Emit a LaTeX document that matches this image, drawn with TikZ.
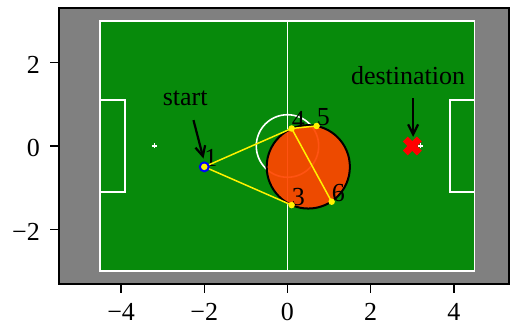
\documentclass[tikz,border=0pt]{standalone}
\usepackage{fontspec}
\setmainfont{Liberation Serif}
\usetikzlibrary{arrows.meta}
\definecolor{fieldgreen}{RGB}{7,138,11}
\definecolor{obst}{RGB}{255,70,0}
\definecolor{bggray}{RGB}{128,128,128}
\begin{document}
\begin{tikzpicture}[x=41.6pt,y=41.7pt,
  txt/.style={font=\fontsize{26}{30}\selectfont, inner sep=0pt, text=black},
  fieldline/.style={draw=white, line width=1.6pt},
  pathline/.style={draw=yellow, line width=1.5pt},
  wpdot/.style={circle, fill=yellow, minimum size=6.5pt, inner sep=0pt},
  annarrow/.style={draw=black, line width=2.2pt, -{Straight Barb[length=10pt,width=10pt,line width=2.2pt]}},
  tickline/.style={line width=1.5pt, black}]
\useasboundingbox (-6.911,-4.293) rectangle (5.349,3.501);
% axes background
\fill[bggray] (-5.5,-3.3) rectangle (5.33,3.3);
% field
\fill[fieldgreen] (-4.5,-3) rectangle (4.5,3);
\draw[fieldline] (-4.5,-3) rectangle (4.5,3);
\draw[fieldline] (0,-3) -- (0,3);
\draw[fieldline] (0,0) circle[radius=0.75];
\draw[fieldline] (-4.5,1.1) -- (-3.9,1.1) -- (-3.9,-1.1) -- (-4.5,-1.1);
\draw[fieldline] (4.5,1.1) -- (3.9,1.1) -- (3.9,-1.1) -- (4.5,-1.1);
% obstacle
\fill[obst, fill opacity=0.93] (0.5,-0.5) circle[radius=1];
\draw[black, line width=2pt] (0.5,-0.5) circle[radius=1];
% waypoints
\coordinate (p1) at (-2,-0.5);
\coordinate (p3) at (0.1,-1.417);
\coordinate (p4) at (0.1,0.42);
\coordinate (p5) at (0.7,0.48);
\coordinate (p6) at (1.062,-1.336);
\coordinate (dest) at (3,0);
% labels
\node[txt, anchor=base west] (l1) at (p1) {1};
\node[txt, anchor=base west] (l3) at (p3) {3};
\node[txt, anchor=base west] (l4) at (p4) {4};
\node[txt, anchor=base west] (l5) at (p5) {5};
\node[txt, anchor=base west] (l6) at (p6) {6};
% path
\draw[pathline] (p1) -- (p4);
\draw[pathline] (p1) -- (p3);
\draw[pathline] (p4) -- (p5);
\draw[pathline] (p4) -- (p6);
\node[circle, fill=blue, minimum size=11pt, inner sep=0pt] (m1) at (p1) {};
\node[wpdot] (d1) at (p1) {};
\node[wpdot] (d3) at (p3) {};
\node[wpdot] (d4) at (p4) {};
\node[wpdot] (d5) at (p5) {};
\node[wpdot] (d6) at (p6) {};
% destination marker
\draw[red, line width=7pt] ([shift={(-7pt,-7pt)}]dest) -- ([shift={(7pt,7pt)}]dest);
\draw[red, line width=7pt] ([shift={(-7pt,7pt)}]dest) -- ([shift={(7pt,-7pt)}]dest);
% penalty marks
\draw[white, line width=1.5pt] (-3.2,0) ++(-2.5pt,0) -- ++(5pt,0) (-3.2,0) ++(0,-2.5pt) -- ++(0,5pt);
\draw[white, line width=1.5pt] (3.2,0) ++(-2.5pt,0) -- ++(5pt,0) (3.2,0) ++(0,-2.5pt) -- ++(0,5pt);
% annotations
\node[txt, anchor=base] (start) at (-2.46,0.96) {start};
\coordinate (sa) at (-2.26,0.62);
\coordinate (sb) at (-2.02,-0.3);
\draw[annarrow] (sa) -- (sb);
\node[txt, anchor=base] (destination) at (2.9,1.48) {destination};
\coordinate (da) at (3.02,1.14);
\coordinate (db) at (3.02,0.22);
\draw[annarrow] (da) -- (db);
% axes spines
\draw[black, line width=2pt] (-5.5,-3.3) rectangle (5.33,3.3);
% ticks
\foreach \v/\t in {-4/−4,-2/−2,0/0,2/2,4/4}{
  \draw[tickline] (\v,-3.3) -- ++(0,-9pt);
  \node[txt, anchor=base] at (\v,-4.173) {\t};
}
\foreach \v/\t in {-2/−2,0/0,2/2}{
  \draw[tickline] (-5.5,\v) -- ++(-9pt,0);
  \node[txt, anchor=base east] at (-5.95,\v-0.255) {\t};
}
\end{tikzpicture}
\end{document}
